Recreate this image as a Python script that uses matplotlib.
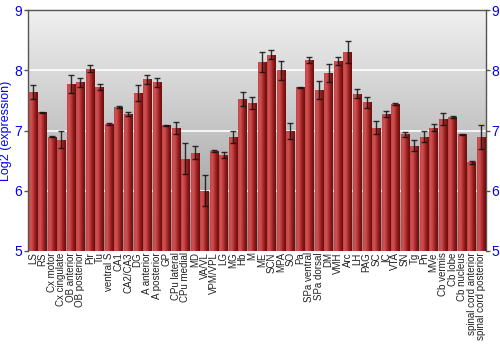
import numpy as np
import matplotlib
matplotlib.use("Agg")
import matplotlib.pyplot as plt
from matplotlib.colors import LinearSegmentedColormap

categories = ["LS", "RS", "Cx motor", "Cx cingulate", "OB anterior", "OB posterior", "Pir", "Tu",
              "ventral S", "CA1", "CA2/CA3", "DG", "A anterior", "A posterior", "GP", "CPu lateral",
              "CPu medial", "MD", "VA/VL", "VPM/VPL", "LG", "MG", "Hb", "M", "ME", "SCN", "MPA", "SO",
              "Pa", "SPa ventral", "SPa dorsal", "DM", "VMH", "Arc", "LH", "PAG", "SC", "IC", "VTA",
              "SN", "Tg", "Pn", "MVe", "Cb vermis", "Cb lobe", "Cb nucleus", "spinal cord anterior",
              "spinal cord posterior"]
values = [7.64, 7.30, 6.90, 6.85, 7.77, 7.80, 8.03, 7.73,
          7.11, 7.39, 7.27, 7.62, 7.85, 7.80, 7.09, 7.05,
          6.53, 6.63, 6.00, 6.66, 6.59, 6.89, 7.52, 7.45, 8.14, 8.26, 8.00, 6.99,
          7.72, 8.18, 7.68, 7.95, 8.16, 8.31, 7.61, 7.47, 7.05, 7.28, 7.44,
          6.94, 6.75, 6.90, 7.05, 7.19, 7.23, 6.94, 6.47, 6.89]
errors = [0.12, 0.01, 0.01, 0.14, 0.15, 0.075, 0.055, 0.05,
          0.01, 0.01, 0.03, 0.13, 0.08, 0.08, 0.01, 0.10,
          0.26, 0.11, 0.26, 0.01, 0.05, 0.10, 0.12, 0.10, 0.17, 0.07, 0.16, 0.13,
          0.01, 0.05, 0.15, 0.15, 0.07, 0.18, 0.075, 0.09, 0.11, 0.05, 0.01,
          0.04, 0.09, 0.09, 0.06, 0.10, 0.02, 0.01, 0.03, 0.20]
yticks = [5, 6, 7, 8, 9]

plt.rcParams['font.family'] = ['Liberation Sans', 'DejaVu Sans']
fig = plt.figure(figsize=(5, 3.5), dpi=100)
ax = fig.add_axes([0.056, 0.283, 0.916, 0.688])

n = len(categories)
x = np.arange(n)
ax.set_xlim(-0.5, n - 0.5)
ax.set_ylim(5, 9)

# background gradient
bg = LinearSegmentedColormap.from_list("bg", ["#8e8e8e", "#c4c4c4", "#f0f0f0"])
grad = np.linspace(0, 1, 256).reshape(-1, 1)
ax.imshow(grad, cmap=bg, aspect="auto", extent=(-0.5, n - 0.5, 5, 9), origin="lower", zorder=0)

for yv in [6, 7, 8]:
    ax.axhline(yv, color="white", lw=1.2, zorder=1)

bars = ax.bar(x, np.array(values) - 5, bottom=5, width=0.88, color="#b03030", zorder=2)
barcmap = LinearSegmentedColormap.from_list("bar", ["#c44444", "#d05454", "#b43434", "#8a1a1a", "#6a0e0e"])
hgrad = np.linspace(0, 1, 64).reshape(1, -1)
for b in bars:
    xx, w, h = b.get_x(), b.get_width(), b.get_height()
    im = ax.imshow(hgrad, cmap=barcmap, aspect="auto", extent=(xx, xx + w, 5, 5 + h), zorder=3)
    im.set_clip_path(b)

ax.errorbar(x, values, yerr=errors, fmt="none", ecolor="#111111", elinewidth=1.0,
            capsize=2.2, capthick=1.0, alpha=0.85, zorder=4)

ax.set_xticks(x)
ax.set_xticklabels(categories, rotation=90, fontsize=7, color="#222222")
ax.tick_params(axis="x", length=0, pad=1)
ax.set_yticks(yticks)
ax.tick_params(axis="y", colors="#555555", labelcolor="blue", labelsize=10, length=3, width=1,
               right=True, labelright=True, direction="out", pad=1)
ax.set_ylabel("Log2 (expression)", color="blue", fontsize=9, labelpad=2)
for s in ["left", "right", "top"]:
    ax.spines[s].set_color("#555555")
    ax.spines[s].set_linewidth(1)
ax.spines["bottom"].set_visible(False)

fig.savefig("out.png", dpi=100)
